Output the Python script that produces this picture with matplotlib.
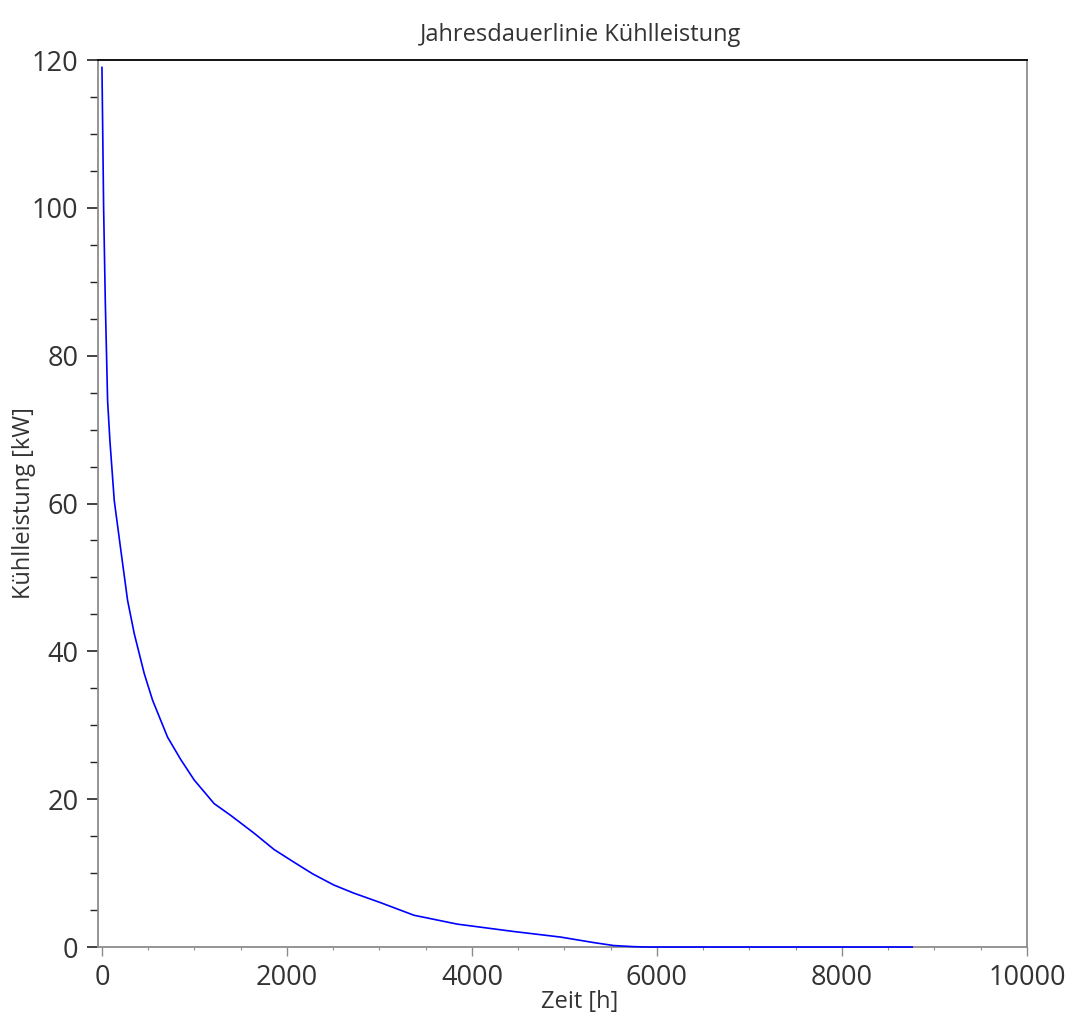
#!/usr/bin/env python3
# -*- coding: utf-8 -*-
import numpy as np
import matplotlib
matplotlib.use("Agg")
import matplotlib.pyplot as plt
from matplotlib.ticker import MultipleLocator

#===================================================================================#
## data
zeit_h = [0, 18, 36, 61, 86, 133, 205, 277, 349, 457, 547, 709, 850, 997, 1213, 1393,
          1645, 1860, 2073, 2278, 2505, 2721, 3013, 3373, 3841, 4452, 4957, 5318,
          5534, 5750, 5900, 8760]
kuehl_kw = [119, 100, 87.4, 73.9, 68.5, 60.4, 53.6, 46.9, 42.4, 37.0, 33.4, 28.4,
            25.4, 22.6, 19.4, 17.8, 15.4, 13.2, 11.5, 9.9, 8.4, 7.3, 6.0, 4.3, 3.1,
            2.1, 1.35, 0.6, 0.2, 0.05, 0, 0]

title = "Jahresdauerlinie Kühlleistung"
xlabel = "Zeit [h]"
ylabel = "Kühlleistung [kW]"

## plot parameters
txt_col = "#333333"
spine_col = "#8c8c8c"
plt.rcParams['font.family'] = ['Open Sans', 'DejaVu Sans']

#===================================================================================#
def main():
    fig = plt.figure(figsize=(10.65, 10.17), dpi=100)
    ax = fig.add_axes([0.092, 0.0688, 0.8722, 0.8722])

    ax.plot(zeit_h, kuehl_kw, color=(0, 0, 1), linewidth=1.2, clip_on=False, zorder=5)

    ax.set_xlim(-43, 10000)
    ax.set_ylim(0, 120)

    ax.xaxis.set_major_locator(MultipleLocator(2000))
    ax.xaxis.set_minor_locator(MultipleLocator(500))
    ax.yaxis.set_major_locator(MultipleLocator(20))
    ax.yaxis.set_minor_locator(MultipleLocator(5))

    ax.tick_params(axis='x', which='major', direction='out', length=6.5, width=1.0,
                   color=spine_col, labelsize=19.5, labelcolor=txt_col, pad=6)
    ax.tick_params(axis='x', which='minor', direction='out', length=2.5, width=0.8,
                   color=spine_col)
    ax.tick_params(axis='y', which='major', direction='out', length=8, width=1.2,
                   color='#222222', labelsize=19.5, labelcolor=txt_col, pad=6)
    ax.tick_params(axis='y', which='minor', direction='out', length=5.5, width=1.0,
                   color='#222222')

    for side in ['left', 'bottom', 'right']:
        ax.spines[side].set_color(spine_col)
        ax.spines[side].set_linewidth(1.3)
    ax.spines['top'].set_color('black')
    ax.spines['top'].set_linewidth(1.3)

    ax.set_title(title, fontsize=17, color=txt_col, pad=14, x=0.519)
    ax.set_xlabel(xlabel, fontsize=17, color=txt_col, labelpad=-2, x=0.519)
    ax.set_ylabel(ylabel, fontsize=17, color=txt_col, labelpad=-3)

    fig.savefig("out.png", dpi=100)

#===================================================================================#
if __name__ == '__main__':
    main()
